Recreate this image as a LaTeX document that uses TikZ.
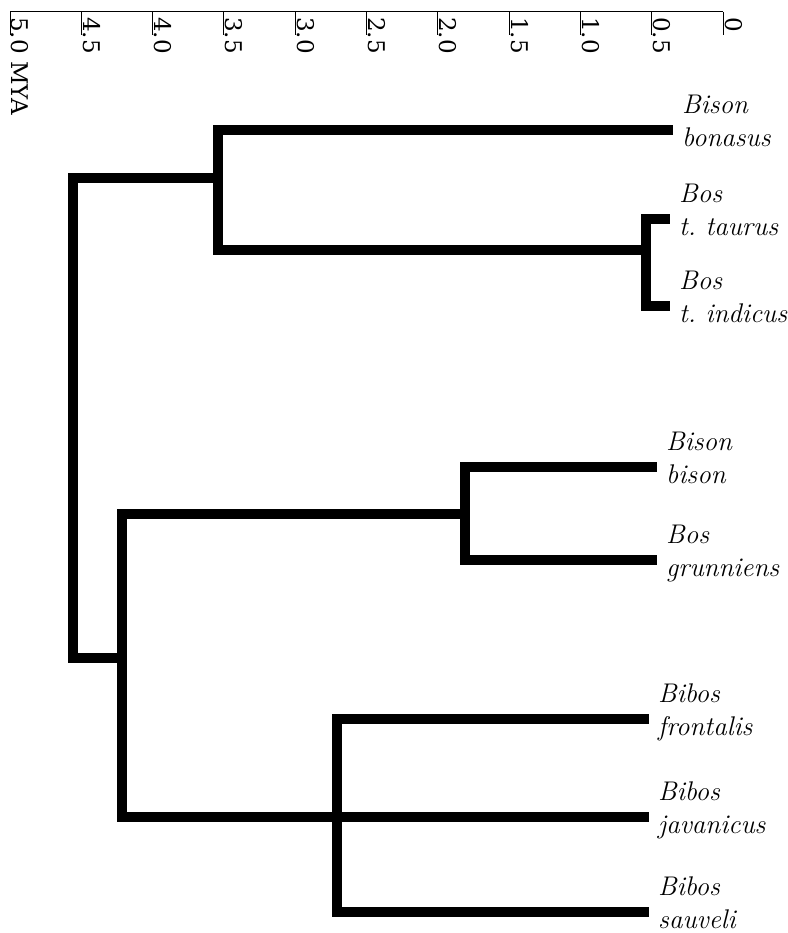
\documentclass[tikz,border=0pt]{standalone}
\usepackage{fontspec}
\newfontfamily\axisfont{DejaVu Serif}
\usepackage{tikz}
\tikzstyle{branch} = [line width=10pt, line join=miter]
\tikzstyle{taxon} = [anchor=west, align=left, inner sep=0pt, xshift=9pt, yshift=7pt, font=\itshape\fontsize{27}{33}\selectfont]
\tikzstyle{axisline} = [line width=1pt]

\begin{document}
\begin{tikzpicture}[x=1pt, y=-1pt,
ticklabel/.style={rotate=-90, anchor=base west, inner sep=0pt, font=\axisfont\fontsize{23}{26}\selectfont}
]
\useasboundingbox (0,0) rectangle (787,933);

% time scale
\foreach \i/\lab in {0/5.0 MYA,1/4.5,2/4.0,3/3.5,4/3.0,5/2.5,6/2.0,7/1.5,8/1.0,9/0.5,10/0} {
  \coordinate (tick\i) at ({10+71.3*\i},12);
  \draw [axisline] (tick\i) -- ++(0,23);
  \node (mya\i) [ticklabel] at ([xshift=2pt, yshift=-5pt]tick\i) {\lab};
}
\draw [axisline] (tick0) -- (tick10);

% branch tips
\coordinate (bonasus) at (673,130);
\coordinate (taurus) at (670,219);
\coordinate (indicus) at (670,306);
\coordinate (bison) at (657,467);
\coordinate (grunniens) at (657,560);
\coordinate (frontalis) at (649,719);
\coordinate (javanicus) at (649,817);
\coordinate (sauveli) at (649,912);

% splits
\coordinate (root) at (73,418);
\coordinate (bisbos) at (218,178);
\coordinate (bostaur) at (646,250);
\coordinate (lower) at (122,658);
\coordinate (bisgrun) at (465,514);
\coordinate (bibos) at (337,817);

\draw [branch] (root) |- (bisbos);
\draw [branch] (root) |- (lower);
\draw [branch] (bisbos) |- (bonasus);
\draw [branch] (bisbos) |- (bostaur);
\draw [branch] (bostaur) |- (taurus);
\draw [branch] (bostaur) |- (indicus);
\draw [branch] (lower) |- (bisgrun);
\draw [branch] (lower) |- (bibos);
\draw [branch] (bisgrun) |- (bison);
\draw [branch] (bisgrun) |- (grunniens);
\draw [branch] (bibos) |- (frontalis);
\draw [branch] (bibos) -- (javanicus);
\draw [branch] (bibos) |- (sauveli);

\node (lbonasus) [taxon] at (bonasus) {\strut Bison\\\strut bonasus};
\node (ltaurus) [taxon] at (taurus) {\strut Bos\\\strut t.~taurus};
\node (lindicus) [taxon] at (indicus) {\strut Bos\\\strut t.~indicus};
\node (lbison) [taxon] at (bison) {\strut Bison\\\strut bison};
\node (lgrunniens) [taxon] at (grunniens) {\strut Bos\\\strut grunniens};
\node (lfrontalis) [taxon] at (frontalis) {\strut Bibos\\\strut frontalis};
\node (ljavanicus) [taxon] at (javanicus) {\strut Bibos\\\strut javanicus};
\node (lsauveli) [taxon] at (sauveli) {\strut Bibos\\\strut sauveli};
\end{tikzpicture}
\end{document}
